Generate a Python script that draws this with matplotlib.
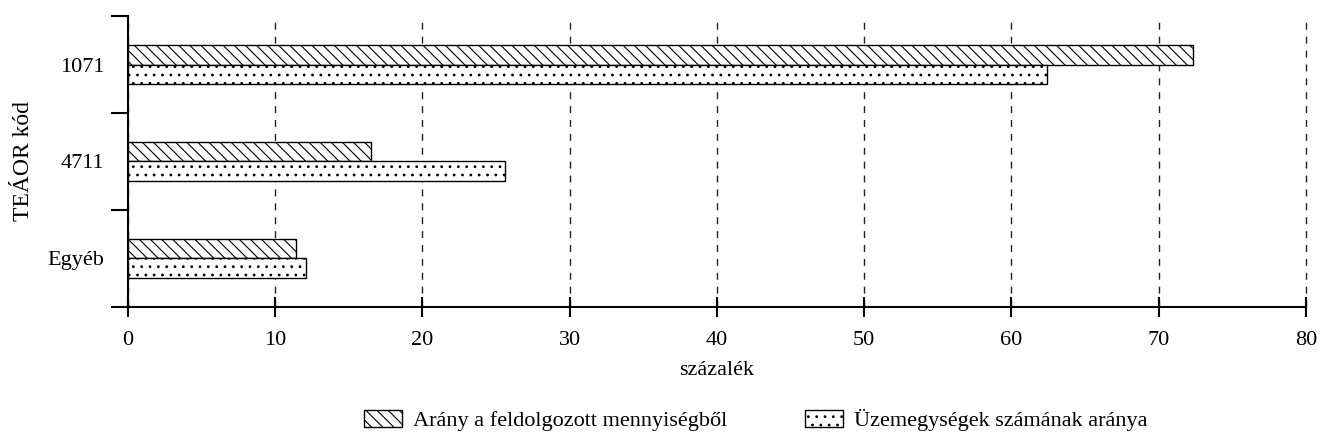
import matplotlib
matplotlib.use('Agg')
import matplotlib.pyplot as plt
import numpy as np

categories = ['Egyéb', '4711', '1071']
arany_feldolgozott = [11.4, 16.5, 72.3]
uzemegysegek_arany = [12.1, 25.6, 62.4]
series_labels = ['Arány a feldolgozott mennyiségből', 'Üzemegységek számának aránya']
x_ticks = [0, 10, 20, 30, 40, 50, 60, 70, 80]

plt.rcParams['font.family'] = ['Liberation Serif', 'DejaVu Serif']
plt.rcParams['font.size'] = 16
plt.rcParams['hatch.linewidth'] = 0.8

fig = plt.figure(figsize=(13.21, 4.41), dpi=100)
ax = fig.add_axes([0.0969, 0.3039, 0.8917, 0.6598])

y = np.arange(len(categories))
h = 0.2
ax.barh(y + h / 2, arany_feldolgozott, height=h, color='white', edgecolor='black',
        linewidth=1, hatch='\\\\\\', label=series_labels[0], zorder=3)
ax.barh(y - h / 2, uzemegysegek_arany, height=h, color='white', edgecolor='black',
        linewidth=1, hatch='..', label=series_labels[1], zorder=3)

ax.set_xlim(0, 80)
ax.set_ylim(-0.5, len(categories) - 0.5)
ax.set_xticks(x_ticks)
ax.set_yticks(np.arange(-0.5, len(categories), 1.0))
ax.set_yticklabels([])
ax.set_yticks(y, minor=True)
ax.set_yticklabels(categories, minor=True)
ax.tick_params(axis='y', which='major', direction='out', length=12, width=1.5)
ax.tick_params(axis='y', which='minor', length=0, pad=17)
ax.tick_params(axis='x', direction='inout', length=14, width=1.5, pad=10)

for s in ['top', 'right']:
    ax.spines[s].set_visible(False)
for s in ['left', 'bottom']:
    ax.spines[s].set_linewidth(1.5)

ax.grid(axis='x', color='#222222', linestyle=(0, (5, 5)), linewidth=1, zorder=0)
ax.set_axisbelow(True)
# keep the gridline at 80 visible at the right edge
for gl in ax.get_xgridlines():
    gl.set_clip_on(False)

ax.set_xlabel('százalék', labelpad=8)
ax.set_ylabel('TEÁOR kód', fontsize=17, labelpad=10)

fig.legend(loc='center', bbox_to_anchor=(0.572, 0.048), ncol=2, frameon=False,
           handlelength=1.7, handleheight=0.8, columnspacing=3.5, handletextpad=0.5)

fig.savefig('out.png', dpi=100)
